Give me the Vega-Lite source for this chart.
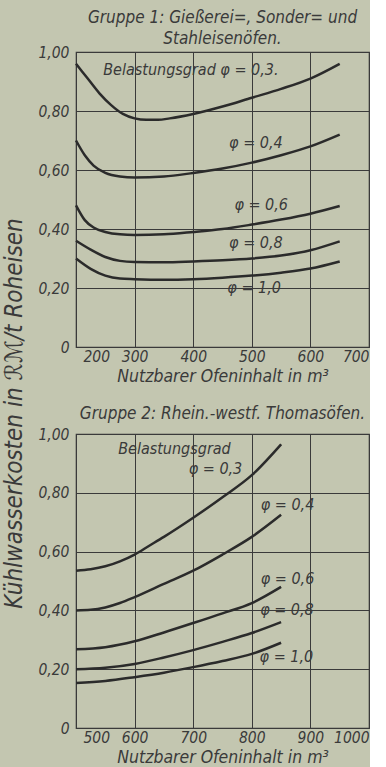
{
  "$schema": "https://vega.github.io/schema/vega-lite/v6.json",
  "background": "#c3c6b0",
  "padding": {"left": 3, "top": 8, "right": 0, "bottom": 0},
  "config": {
    "font": "DejaVu Sans Condensed",
    "view": {"stroke": "#3a3a3a", "strokeWidth": 1.2},
    "axis": {
      "grid": true, "gridColor": "#3a3a3a", "gridOpacity": 1, "gridWidth": 1,
      "domain": false, "ticks": false,
      "labelFont": "DejaVu Sans Condensed", "labelFontStyle": "italic", "labelFontSize": 15.5, "labelColor": "#3a3a3a",
      "titleFont": "DejaVu Sans Condensed", "titleFontStyle": "italic", "titleFontWeight": "normal", "titleFontSize": 17.5, "titleColor": "#3a3a3a"
    },
    "title": {"font": "DejaVu Sans Condensed", "fontStyle": "italic", "fontWeight": "normal", "fontSize": 17, "color": "#3a3a3a"},
    "text": {"font": "DejaVu Sans Condensed", "fontStyle": "italic", "fontSize": 16, "color": "#3a3a3a"}
  },
  "title": {"text": "Kühlwasserkosten in ℛℳ/t Roheisen", "orient": "left", "anchor": "middle", "fontSize": 24, "offset": 10, "dx": -26},
  "datasets": {
    "g1": [
      {"phi": "0,3", "x": 200, "y": 0.96}, {"phi": "0,3", "x": 220, "y": 0.91}, {"phi": "0,3", "x": 240, "y": 0.86}, {"phi": "0,3", "x": 260, "y": 0.82}, {"phi": "0,3", "x": 280, "y": 0.79}, {"phi": "0,3", "x": 300, "y": 0.775}, {"phi": "0,3", "x": 320, "y": 0.77}, {"phi": "0,3", "x": 340, "y": 0.77}, {"phi": "0,3", "x": 360, "y": 0.775}, {"phi": "0,3", "x": 400, "y": 0.79}, {"phi": "0,3", "x": 450, "y": 0.815}, {"phi": "0,3", "x": 500, "y": 0.845}, {"phi": "0,3", "x": 550, "y": 0.875}, {"phi": "0,3", "x": 600, "y": 0.91}, {"phi": "0,3", "x": 650, "y": 0.96},
      {"phi": "0,4", "x": 200, "y": 0.70}, {"phi": "0,4", "x": 215, "y": 0.65}, {"phi": "0,4", "x": 230, "y": 0.615}, {"phi": "0,4", "x": 250, "y": 0.59}, {"phi": "0,4", "x": 275, "y": 0.578}, {"phi": "0,4", "x": 300, "y": 0.575}, {"phi": "0,4", "x": 350, "y": 0.578}, {"phi": "0,4", "x": 400, "y": 0.59}, {"phi": "0,4", "x": 450, "y": 0.605}, {"phi": "0,4", "x": 500, "y": 0.625}, {"phi": "0,4", "x": 550, "y": 0.65}, {"phi": "0,4", "x": 600, "y": 0.68}, {"phi": "0,4", "x": 650, "y": 0.72},
      {"phi": "0,6", "x": 200, "y": 0.48}, {"phi": "0,6", "x": 215, "y": 0.43}, {"phi": "0,6", "x": 230, "y": 0.405}, {"phi": "0,6", "x": 250, "y": 0.39}, {"phi": "0,6", "x": 275, "y": 0.382}, {"phi": "0,6", "x": 300, "y": 0.38}, {"phi": "0,6", "x": 350, "y": 0.382}, {"phi": "0,6", "x": 400, "y": 0.39}, {"phi": "0,6", "x": 450, "y": 0.40}, {"phi": "0,6", "x": 500, "y": 0.415}, {"phi": "0,6", "x": 550, "y": 0.432}, {"phi": "0,6", "x": 600, "y": 0.452}, {"phi": "0,6", "x": 650, "y": 0.478},
      {"phi": "0,8", "x": 200, "y": 0.36}, {"phi": "0,8", "x": 225, "y": 0.33}, {"phi": "0,8", "x": 250, "y": 0.305}, {"phi": "0,8", "x": 275, "y": 0.292}, {"phi": "0,8", "x": 300, "y": 0.288}, {"phi": "0,8", "x": 350, "y": 0.287}, {"phi": "0,8", "x": 400, "y": 0.29}, {"phi": "0,8", "x": 450, "y": 0.294}, {"phi": "0,8", "x": 500, "y": 0.30}, {"phi": "0,8", "x": 550, "y": 0.31}, {"phi": "0,8", "x": 600, "y": 0.328}, {"phi": "0,8", "x": 650, "y": 0.358},
      {"phi": "1,0", "x": 200, "y": 0.30}, {"phi": "1,0", "x": 225, "y": 0.265}, {"phi": "1,0", "x": 250, "y": 0.242}, {"phi": "1,0", "x": 275, "y": 0.232}, {"phi": "1,0", "x": 300, "y": 0.23}, {"phi": "1,0", "x": 350, "y": 0.228}, {"phi": "1,0", "x": 400, "y": 0.23}, {"phi": "1,0", "x": 450, "y": 0.235}, {"phi": "1,0", "x": 500, "y": 0.242}, {"phi": "1,0", "x": 550, "y": 0.252}, {"phi": "1,0", "x": 600, "y": 0.266}, {"phi": "1,0", "x": 650, "y": 0.29}
    ],
    "g2": [
      {"phi": "0,3", "x": 500, "y": 0.535}, {"phi": "0,3", "x": 525, "y": 0.54}, {"phi": "0,3", "x": 550, "y": 0.55}, {"phi": "0,3", "x": 575, "y": 0.567}, {"phi": "0,3", "x": 600, "y": 0.59}, {"phi": "0,3", "x": 625, "y": 0.62}, {"phi": "0,3", "x": 650, "y": 0.65}, {"phi": "0,3", "x": 700, "y": 0.715}, {"phi": "0,3", "x": 750, "y": 0.785}, {"phi": "0,3", "x": 800, "y": 0.86}, {"phi": "0,3", "x": 850, "y": 0.965},
      {"phi": "0,4", "x": 500, "y": 0.40}, {"phi": "0,4", "x": 525, "y": 0.402}, {"phi": "0,4", "x": 550, "y": 0.41}, {"phi": "0,4", "x": 575, "y": 0.425}, {"phi": "0,4", "x": 600, "y": 0.445}, {"phi": "0,4", "x": 650, "y": 0.49}, {"phi": "0,4", "x": 700, "y": 0.535}, {"phi": "0,4", "x": 750, "y": 0.59}, {"phi": "0,4", "x": 800, "y": 0.65}, {"phi": "0,4", "x": 850, "y": 0.725},
      {"phi": "0,6", "x": 500, "y": 0.268}, {"phi": "0,6", "x": 550, "y": 0.275}, {"phi": "0,6", "x": 600, "y": 0.295}, {"phi": "0,6", "x": 650, "y": 0.325}, {"phi": "0,6", "x": 700, "y": 0.357}, {"phi": "0,6", "x": 750, "y": 0.39}, {"phi": "0,6", "x": 800, "y": 0.425}, {"phi": "0,6", "x": 850, "y": 0.48},
      {"phi": "0,8", "x": 500, "y": 0.20}, {"phi": "0,8", "x": 550, "y": 0.205}, {"phi": "0,8", "x": 600, "y": 0.218}, {"phi": "0,8", "x": 650, "y": 0.24}, {"phi": "0,8", "x": 700, "y": 0.265}, {"phi": "0,8", "x": 750, "y": 0.293}, {"phi": "0,8", "x": 800, "y": 0.323}, {"phi": "0,8", "x": 850, "y": 0.36},
      {"phi": "1,0", "x": 500, "y": 0.153}, {"phi": "1,0", "x": 550, "y": 0.16}, {"phi": "1,0", "x": 600, "y": 0.173}, {"phi": "1,0", "x": 650, "y": 0.188}, {"phi": "1,0", "x": 700, "y": 0.207}, {"phi": "1,0", "x": 750, "y": 0.228}, {"phi": "1,0", "x": 800, "y": 0.252}, {"phi": "1,0", "x": 850, "y": 0.29}
    ],
    "l1": [
      {"t": "Belastungsgrad φ = 0,3.", "x": 396, "y": 0.94},
      {"t": "φ = 0,4", "x": 507, "y": 0.69},
      {"t": "φ = 0,6", "x": 516, "y": 0.48},
      {"t": "φ = 0,8", "x": 507, "y": 0.352},
      {"t": "φ = 1,0", "x": 504, "y": 0.20}
    ],
    "l2": [
      {"t": "Belastungsgrad", "x": 668, "y": 0.95},
      {"t": "φ = 0,3", "x": 738, "y": 0.88},
      {"t": "φ = 0,4", "x": 861, "y": 0.76},
      {"t": "φ = 0,6", "x": 861, "y": 0.507},
      {"t": "φ = 0,8", "x": 860, "y": 0.40},
      {"t": "φ = 1,0", "x": 859, "y": 0.243}
    ]
  },
  "spacing": 18,
  "vconcat": [
    {
      "width": 293, "height": 295,
      "title": {"text": ["Gruppe 1: Gießerei=, Sonder= und", "Stahleisenöfen."], "offset": -3, "lineHeight": 21},
      "layer": [
        {
          "data": {"name": "g1"},
          "mark": {"type": "line", "interpolate": "monotone", "strokeWidth": 2.5, "color": "#2b2b2b"},
          "encoding": {
            "x": {"field": "x", "type": "quantitative", "scale": {"domain": [200, 700], "nice": false}, "axis": {"values": [200, 300, 400, 500, 600, 700], "title": "Nutzbarer Ofeninhalt in m³", "labelPadding": 2, "titlePadding": 3, "labelOffset": {"condition": {"test": "datum.value == 200", "value": 7}, "value": 0}}},
            "y": {"field": "y", "type": "quantitative", "scale": {"domain": [0, 1], "nice": false}, "axis": {"values": [0, 0.2, 0.4, 0.6, 0.8, 1], "title": null, "labelPadding": 7, "labelExpr": "datum.value == 0 ? '0' : replace(format(datum.value, '.2f'), '.', ',')"}},
            "detail": {"field": "phi"}
          }
        },
        {
          "data": {"name": "l1"},
          "mark": {"type": "text"},
          "encoding": {
            "x": {"field": "x", "type": "quantitative"},
            "y": {"field": "y", "type": "quantitative"},
            "text": {"field": "t"}
          }
        }
      ]
    },
    {
      "width": 293, "height": 294,
      "title": {"text": "Gruppe 2: Rhein.-westf. Thomasöfen.", "offset": 4},
      "layer": [
        {
          "data": {"name": "g2"},
          "mark": {"type": "line", "interpolate": "monotone", "strokeWidth": 2.5, "color": "#2b2b2b"},
          "encoding": {
            "x": {"field": "x", "type": "quantitative", "scale": {"domain": [500, 1000], "nice": false}, "axis": {"values": [500, 600, 700, 800, 900, 1000], "title": "Nutzbarer Ofeninhalt in m³", "labelPadding": 2, "titlePadding": 3, "labelExpr": "format(datum.value, 'd')", "labelOffset": {"condition": {"test": "datum.value == 500", "value": 7}, "value": 0}}},
            "y": {"field": "y", "type": "quantitative", "scale": {"domain": [0, 1], "nice": false}, "axis": {"values": [0, 0.2, 0.4, 0.6, 0.8, 1], "title": null, "labelPadding": 7, "labelExpr": "datum.value == 0 ? '0' : replace(format(datum.value, '.2f'), '.', ',')"}},
            "detail": {"field": "phi"}
          }
        },
        {
          "data": {"name": "l2"},
          "mark": {"type": "text"},
          "encoding": {
            "x": {"field": "x", "type": "quantitative"},
            "y": {"field": "y", "type": "quantitative"},
            "text": {"field": "t"}
          }
        }
      ]
    }
  ]
}
